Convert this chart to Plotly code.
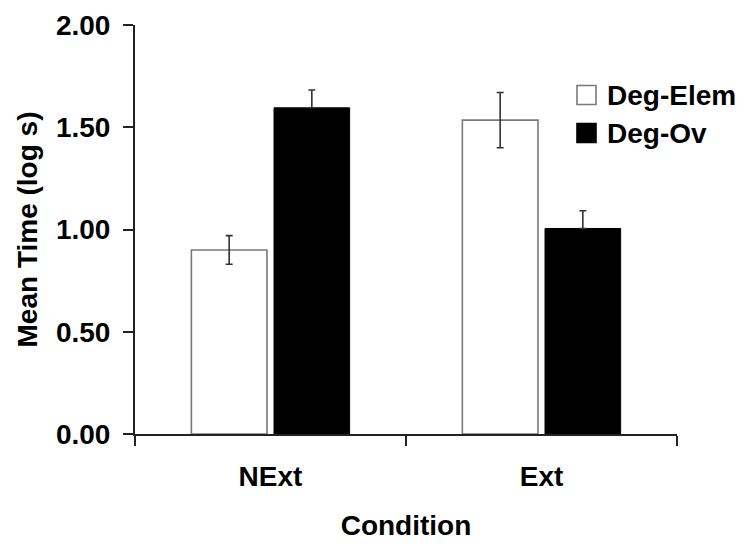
import plotly.graph_objects as go

conditions = ["NExt", "Ext"]
series_names = ["Deg-Elem", "Deg-Ov"]
deg_elem = [0.90, 1.535]
deg_elem_err = [0.07, 0.135]
deg_ov = [1.595, 1.005]
deg_ov_err_up = [0.087, 0.087]
deg_ov_err_down = [0.0, 0.0]
y_ticks = [0.0, 0.5, 1.0, 1.5, 2.0]

FONT = "Liberation Sans, Arial, sans-serif"

fig = go.Figure()
fig.add_trace(go.Bar(
    x=conditions, y=deg_elem, name=series_names[0],
    marker=dict(color="white", line=dict(color="#7a7a7a", width=1.6)),
    error_y=dict(type="data", array=deg_elem_err, visible=True,
                 color="#333333", thickness=1.6, width=3.5),
    showlegend=False,
))
fig.add_trace(go.Bar(
    x=conditions, y=deg_ov, name=series_names[1],
    marker=dict(color="black", line=dict(color="black", width=1)),
    error_y=dict(type="data", symmetric=False, array=deg_ov_err_up,
                 arrayminus=deg_ov_err_down, visible=True,
                 color="#333333", thickness=1.6, width=3.5),
    showlegend=False,
))

W, H = 756, 550
OFF = 8  # page body margin
# plot area in page pixels
PL, PR, PT, PB = 135, 677, 25, 434
pw, ph = PR - PL, PB - PT

def px_x(p):
    return (p - PL) / pw

def px_y(p):
    return (PB - p) / ph

# manual legend
legend_items = [
    (series_names[0], "white", "#7a7a7a", 95),
    (series_names[1], "black", "black", 133),
]
for name, fill, edge, cy in legend_items:
    fig.add_shape(type="rect", xref="paper", yref="paper",
                  x0=px_x(577), x1=px_x(596), y0=px_y(cy + 9.5), y1=px_y(cy - 9.5),
                  fillcolor=fill, line=dict(color=edge, width=1.6))
    fig.add_annotation(xref="paper", yref="paper", x=px_x(605), y=px_y(cy),
                       text=name, showarrow=False, xanchor="left", yanchor="middle",
                       font=dict(family=FONT, size=28, color="black", weight="bold"))

fig.update_layout(
    width=W, height=H,
    margin=dict(l=PL - OFF, r=W + OFF - PR, t=PT - OFF, b=H + OFF - PB),
    paper_bgcolor="white", plot_bgcolor="white",
    barmode="group", bargap=0.39, bargroupgap=0.085,
    font=dict(family=FONT, size=28, color="black", weight="bold"),
    xaxis=dict(
        automargin=False,
        showline=True, linecolor="#222222", linewidth=2,
        ticks="outside", ticklen=10, tickwidth=2, tickcolor="#222222",
        tickson="boundaries", showgrid=False, zeroline=False,
        tickfont=dict(family=FONT, size=28, color="black", weight="bold"),
        ticklabelstandoff=16,
        title=dict(text="Condition", standoff=25,
                   font=dict(family=FONT, size=28, color="black", weight="bold")),
    ),
    yaxis=dict(
        automargin=False,
        range=[0, 2], tickvals=y_ticks, tickformat=".2f",
        showline=True, linecolor="#222222", linewidth=2,
        ticks="outside", ticklen=10, tickwidth=2, tickcolor="#222222",
        showgrid=False, zeroline=False,
        tickfont=dict(family=FONT, size=28, color="black", weight="bold"),
        ticklabelstandoff=7,
        title=dict(text="Mean Time (log s)", standoff=10,
                   font=dict(family=FONT, size=28, color="black", weight="bold")),
    ),
)

fig.write_html("out.html")
